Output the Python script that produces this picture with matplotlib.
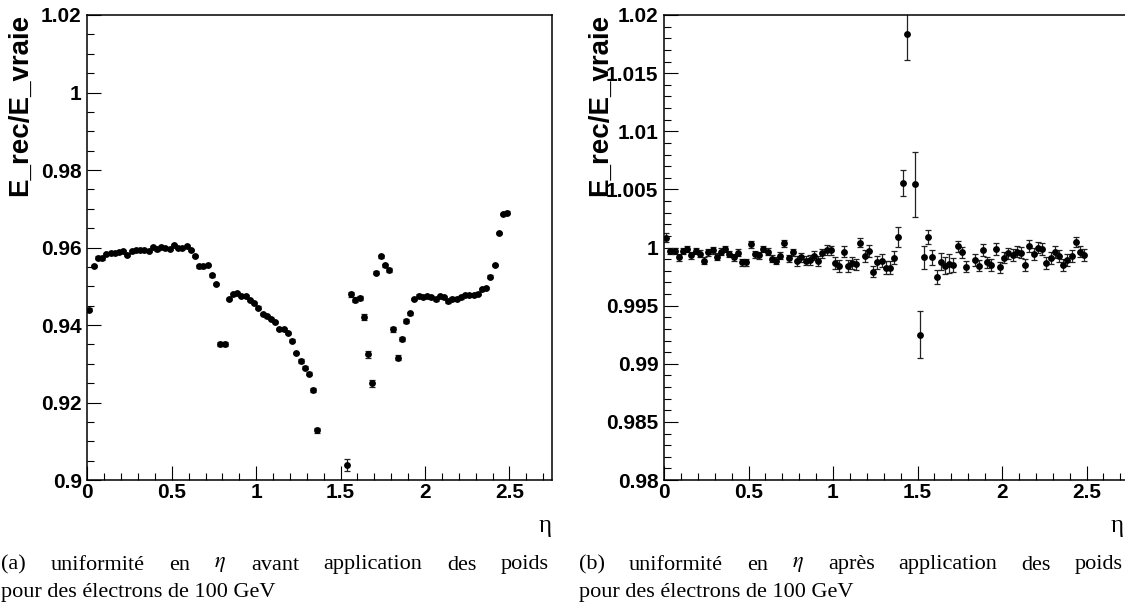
"""
Uniformity in eta of E_rec/E_vraie, before (a) and after (b) weights,
for 100 GeV electrons.
"""

import numpy as np
import matplotlib
matplotlib.use('Agg')
import matplotlib.pyplot as plt
from matplotlib.ticker import MultipleLocator, FuncFormatter

nan = np.nan

# histogram binning: 100 bins of 0.025 in eta, from 0 to 2.5
eta_edges = np.linspace(0.0, 2.5, 101)
eta = 0.5 * (eta_edges[:-1] + eta_edges[1:])

# (a) before weights
ratio_before = [
    0.9440, 0.9553, 0.9574, 0.9572, 0.9584, 0.9585, 0.9585, 0.9588, 0.9590, 0.9580,
    0.9590, 0.9593, 0.9593, 0.9593, 0.9592, 0.9602, 0.9595, 0.9602, 0.9598, 0.9597,
    0.9607, 0.9598, 0.9598, 0.9603, 0.9594, 0.9578, 0.9551, 0.9551, 0.9554, 0.9528,
    0.9505, 0.9350, 0.9350, 0.9467, 0.9479, 0.9483, 0.9476, 0.9475, 0.9464, 0.9456,
    0.9445, 0.9428, 0.9422, 0.9415, 0.9407, 0.9390, 0.9389, 0.9379, 0.9360, 0.9327,
    0.9307, 0.9290, 0.9274, 0.9232, 0.9128, nan, nan, nan, nan, nan,
    nan, 0.9038, 0.9479, 0.9465, 0.9470, 0.9421, 0.9324, 0.9250, 0.9535, 0.9577,
    0.9554, 0.9542, 0.9389, 0.9316, 0.9364, 0.9410, 0.9430, 0.9467, 0.9476, 0.9472,
    0.9475, 0.9471, 0.9466, 0.9475, 0.9471, 0.9461, 0.9468, 0.9468, 0.9471, 0.9477,
    0.9477, 0.9477, 0.9481, 0.9493, 0.9495, 0.9525, 0.9554, 0.9637, 0.9686, 0.9690,
]
err_before = [
    0.0003, 0.0003, 0.0003, 0.0003, 0.0003, 0.0003, 0.0003, 0.0003, 0.0003, 0.0003,
    0.0003, 0.0003, 0.0003, 0.0003, 0.0003, 0.0003, 0.0003, 0.0003, 0.0003, 0.0003,
    0.0003, 0.0003, 0.0003, 0.0003, 0.0003, 0.0003, 0.0003, 0.0003, 0.0003, 0.0003,
    0.0003, 0.0005, 0.0005, 0.0003, 0.0003, 0.0003, 0.0003, 0.0003, 0.0003, 0.0003,
    0.0003, 0.0003, 0.0003, 0.0003, 0.0003, 0.0003, 0.0003, 0.0003, 0.0003, 0.0003,
    0.0004, 0.0004, 0.0004, 0.0006, 0.0007, nan, nan, nan, nan, nan,
    nan, 0.0015, 0.0006, 0.0006, 0.0006, 0.0008, 0.0008, 0.0009, 0.0004, 0.0004,
    0.0004, 0.0004, 0.0007, 0.0006, 0.0006, 0.0005, 0.0004, 0.0003, 0.0003, 0.0003,
    0.0003, 0.0003, 0.0003, 0.0003, 0.0003, 0.0003, 0.0003, 0.0003, 0.0003, 0.0003,
    0.0003, 0.0003, 0.0003, 0.0003, 0.0003, 0.0003, 0.0003, 0.0003, 0.0003, 0.0004,
]

# (b) after weights
ratio_after = [
    1.00085, 0.99970, 0.99970, 0.99915, 0.99970, 0.99987, 0.99935, 0.99970, 0.99947, 0.99884,
    0.99958, 0.99976, 0.99921, 0.99964, 0.99987, 0.99944, 0.99915, 0.99956, 0.99875, 0.99875,
    1.00027, 0.99941, 0.99935, 0.99987, 0.99964, 0.99904, 0.99884, 0.99930, 1.00036, 0.99907,
    0.99960, 0.99884, 0.99915, 0.99887, 0.99892, 0.99930, 0.99884, 0.99950, 0.99978, 0.99976,
    0.99869, 0.99841, 0.99964, 0.99841, 0.99864, 0.99855, 1.00042, 0.99927, 0.99970, 0.99792,
    0.99873, 0.99887, 0.99826, 0.99826, 0.99912, 1.00088, 1.00557, 1.01837, nan, 1.00544,
    0.99250, 0.99915, 1.00093, 0.99915, 0.99745, 0.99878, 0.99845, 0.99862, 0.99850, 1.00010,
    0.99958, 0.99835, nan, 0.99892, 0.99844, 0.99978, 0.99872, 0.99850, 0.99987, 0.99829,
    0.99913, 0.99950, 0.99935, 0.99964, 0.99956, 0.99850, 1.00013, 0.99944, 1.00000, 0.99987,
    0.99864, 0.99907, 0.99961, 0.99927, 0.99850, 0.99892, 0.99927, 1.00047, 0.99964, 0.99935,
]
err_after = [
    0.0004, 0.0003, 0.0003, 0.0003, 0.0003, 0.0003, 0.0003, 0.0003, 0.0003, 0.0003,
    0.0003, 0.0003, 0.0003, 0.0003, 0.0003, 0.0003, 0.0003, 0.0003, 0.0003, 0.0003,
    0.0003, 0.0003, 0.0003, 0.0003, 0.0003, 0.0003, 0.0003, 0.0003, 0.0003, 0.0003,
    0.0003, 0.0004, 0.0004, 0.0004, 0.0004, 0.0004, 0.0004, 0.0004, 0.0004, 0.0004,
    0.0005, 0.0005, 0.0005, 0.0005, 0.0005, 0.0005, 0.0004, 0.0005, 0.0005, 0.0005,
    0.00055, 0.00055, 0.00055, 0.00055, 0.00055, 0.00085, 0.0011, 0.0022, nan, 0.0028,
    0.0020, 0.0010, 0.0006, 0.00065, 0.0006, 0.00075, 0.00075, 0.0008, 0.0006, 0.0005,
    0.0005, 0.0005, nan, 0.0005, 0.0005, 0.0005, 0.0005, 0.0005, 0.0005, 0.0005,
    0.0005, 0.0005, 0.0005, 0.0005, 0.0005, 0.0005, 0.0005, 0.0005, 0.0005, 0.0005,
    0.0005, 0.0005, 0.0005, 0.0005, 0.0005, 0.0005, 0.0005, 0.0004, 0.0005, 0.0005,
]

captions = [
    ('(a) uniformité en $\\eta$ avant application des poids',
     'pour des électrons de 100 GeV'),
    ('(b) uniformité en $\\eta$ après application des poids',
     'pour des électrons de 100 GeV'),
]

W, H = 1125, 614


def fx(px):
    return px / W


def fy(py):
    return 1 - py / H


plt.rcParams['font.family'] = ['Liberation Sans', 'DejaVu Sans']
plt.rcParams['mathtext.fontset'] = 'stix'

fig = plt.figure(figsize=(W / 100, H / 100), dpi=100)

ax_a = fig.add_axes([fx(87.3), fy(480), fx(464.4), 465 / H])
ax_b = fig.add_axes([fx(664), fy(480), fx(464.75), 465 / H])


def draw_panel(ax, vals, errs, ylim, ymajor, yminor):
    ax.errorbar(eta, vals, yerr=errs, fmt='o', color='black', ms=3.9,
                ecolor='#222222', elinewidth=0.9, capsize=2.2, capthick=0.9)
    ax.set_xlim(0, 2.75)
    ax.set_ylim(*ylim)
    ax.xaxis.set_major_locator(MultipleLocator(0.5))
    ax.xaxis.set_minor_locator(MultipleLocator(0.1))
    ax.yaxis.set_major_locator(MultipleLocator(ymajor))
    ax.yaxis.set_minor_locator(MultipleLocator(yminor))
    fmt = FuncFormatter(lambda v, p: f'{v:g}')
    ax.xaxis.set_major_formatter(fmt)
    ax.yaxis.set_major_formatter(fmt)
    ax.tick_params(which='both', direction='in', top=False, right=False,
                   width=0.8, labelsize=15)
    ax.tick_params(which='major', length=10)
    ax.tick_params(which='minor', length=5)
    ax.tick_params(axis='x', pad=2)
    ax.tick_params(axis='y', pad=4)
    for lab in ax.get_xticklabels() + ax.get_yticklabels():
        lab.set_fontweight('bold')
    for sp in ax.spines.values():
        sp.set_linewidth(1.1)


draw_panel(ax_a, ratio_before, err_before, (0.9, 1.02), 0.02, 0.005)
draw_panel(ax_b, ratio_after, err_after, (0.98, 1.02), 0.005, 0.001)

# axis titles, ROOT style
for x_lab, x_end in [(20, 551.7), (600, 1124)]:
    fig.text(fx(x_lab), fy(14), 'E_rec/E_vraie', rotation=90, ha='center',
             va='top', fontsize=20, fontweight='bold')
    fig.text(fx(x_end), fy(526), 'η', ha='right', va='center',
             family='Liberation Serif', fontsize=18)

renderer = fig.canvas.get_renderer()
cap_style = dict(ha='left', va='center', family='Liberation Serif',
                 fontsize=16)


def justified_line(text, x0, x1, y):
    # first caption line is justified to the full subfigure width (LaTeX)
    words = text.split(' ')
    objs = [fig.text(0, fy(y), w, **cap_style) for w in words]
    widths = [o.get_window_extent(renderer).width for o in objs]
    gap = (x1 - x0 - sum(widths)) / (len(words) - 1)
    x = x0
    for o, w in zip(objs, widths):
        o.set_x(fx(x))
        x += w + gap


for x0, x1, (line1, line2) in zip([1, 579], [549, 1123], captions):
    justified_line(line1, x0, x1, 565)
    fig.text(fx(x0), fy(593), line2, **cap_style)

fig.savefig('out.png', dpi=100)
